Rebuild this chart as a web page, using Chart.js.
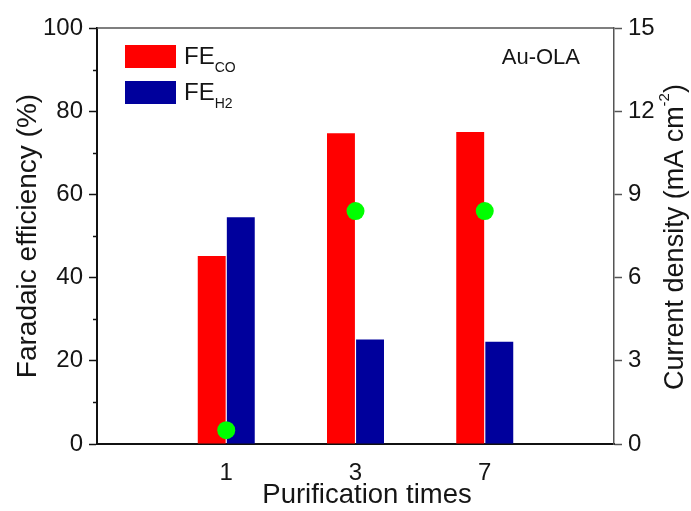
<!DOCTYPE html>
<html>
<head>
<meta charset="utf-8">
<script src="https://cdn.jsdelivr.net/npm/chart.js@4/dist/chart.umd.min.js"></script>
<style>
  html, body { margin: 0; padding: 0; background: #fff; }
  #wrap { width: 691px; height: 511px; }
</style>
</head>
<body>
<div id="wrap"><canvas id="feChart" width="691" height="511"></canvas></div>
<script>
// purification runs and measured values
var times = ['1', '3', '7'];
var feCO = [45.2, 74.7, 75.0];
var feH2 = [54.5, 25.1, 24.6];
var currentDensity = [0.5, 8.4, 8.4];

var FONT = "'Liberation Sans', Arial, sans-serif";
var TEXT = '#151515';
var RED = '#ff0000';
var BLUE = '#00009c';
var GREEN = '#00ff00';

// empty slots on both ends so the three groups sit at 1/4, 2/4, 3/4 of the axis
var labels = [''].concat(times, ['']);
function pad(arr) { return [null].concat(arr, [null]); }

// top frame line, minor ticks on the left axis, legend, sample label, axis titles
var extras = {
  id: 'extras',
  afterDraw: function (chart) {
    var c = chart.ctx, a = chart.chartArea;
    var y = chart.scales.y;
    c.save();

    c.strokeStyle = '#555';
    c.lineWidth = 1.5;
    c.beginPath();
    c.moveTo(a.left, a.top);
    c.lineTo(a.right, a.top);
    c.stroke();

    c.strokeStyle = '#111';
    c.lineWidth = 1.5;
    for (var v = 10; v < 100; v += 20) {
      var py = Math.round(y.getPixelForValue(v)) + 0.5;
      c.beginPath();
      c.moveTo(a.left - 4, py);
      c.lineTo(a.left, py);
      c.stroke();
    }

    // legend
    var items = [
      { color: RED, sub: 'CO', top: 45 },
      { color: BLUE, sub: 'H2', top: 81 }
    ];
    items.forEach(function (it) {
      c.fillStyle = it.color;
      c.fillRect(125, it.top, 51, 23);
      c.fillStyle = TEXT;
      c.textBaseline = 'alphabetic';
      c.textAlign = 'left';
      c.font = '24px ' + FONT;
      c.fillText('FE', 184, it.top + 19);
      var w = c.measureText('FE').width;
      c.font = '14px ' + FONT;
      c.fillText(it.sub, 184 + w, it.top + 27);
    });

    c.fillStyle = TEXT;
    c.font = '22px ' + FONT;
    c.textAlign = 'right';
    c.fillText('Au-OLA', 580, 64);

    // x axis title
    c.font = '27.5px ' + FONT;
    c.textAlign = 'center';
    c.textBaseline = 'middle';
    c.fillText('Purification times', 367, 495);

    // right axis title with superscript
    c.translate(676, 237);
    c.rotate(-Math.PI / 2);
    c.textBaseline = 'middle';
    c.textAlign = 'left';
    var big = '27px ' + FONT, small = '15px ' + FONT;
    var t1 = 'Current density (mA cm', t2 = '-2', t3 = ')';
    c.font = big;
    var w1 = c.measureText(t1).width, w3 = c.measureText(t3).width;
    c.font = small;
    var w2 = c.measureText(t2).width;
    var x0 = -(w1 + w2 + w3) / 2;
    c.font = big;
    c.fillText(t1, x0, 0);
    c.font = small;
    c.fillText(t2, x0 + w1, -11);
    c.font = big;
    c.fillText(t3, x0 + w1 + w2, 0);

    c.restore();
  }
};

new Chart(document.getElementById('feChart'), {
  type: 'bar',
  data: {
    labels: labels,
    datasets: [
      {
        type: 'line',
        label: 'Current density',
        data: pad(currentDensity),
        yAxisID: 'y1',
        showLine: false,
        pointRadius: 9,
        pointHoverRadius: 9,
        pointBackgroundColor: GREEN,
        pointBorderWidth: 0,
        borderColor: GREEN,
        order: 0
      },
      {
        label: 'FE CO',
        data: pad(feCO),
        backgroundColor: RED,
        borderWidth: 0,
        order: 1
      },
      {
        label: 'FE H2',
        data: pad(feH2),
        backgroundColor: BLUE,
        borderWidth: 0,
        order: 1
      }
    ]
  },
  options: {
    responsive: false,
    devicePixelRatio: 1,
    animation: false,
    categoryPercentage: 0.45,
    barPercentage: 0.96,
    layout: { padding: { top: 28, left: 0, right: 0, bottom: 0 } },
    plugins: {
      legend: { display: false },
      tooltip: { enabled: false }
    },
    scales: {
      x: {
        offset: false,
        grid: { drawOnChartArea: false, drawTicks: false },
        border: { color: '#111', width: 2 },
        ticks: {
          color: TEXT,
          font: { family: FONT, size: 24 },
          padding: 15,
          maxRotation: 0,
          autoSkip: false
        },
        afterFit: function (s) { s.height = 67; }
      },
      y: {
        position: 'left',
        min: 0,
        max: 100,
        grid: { drawOnChartArea: false, tickLength: 8, tickColor: '#111', tickWidth: 1.5 },
        border: { color: '#111', width: 2 },
        ticks: {
          stepSize: 20,
          color: TEXT,
          font: { family: FONT, size: 24 },
          padding: 6
        },
        title: {
          display: true,
          text: 'Faradaic efficiency (%)',
          color: TEXT,
          font: { family: FONT, size: 28 },
          padding: { top: 11, bottom: 0 }
        },
        afterFit: function (s) { s.width = 97; }
      },
      y1: {
        position: 'right',
        min: 0,
        max: 15,
        grid: { drawOnChartArea: false, tickLength: 8, tickColor: '#555', tickWidth: 1.5 },
        border: { color: '#555', width: 1.5 },
        ticks: {
          stepSize: 3,
          color: TEXT,
          font: { family: FONT, size: 24 },
          padding: 6
        },
        afterFit: function (s) { s.width = 77; }
      }
    }
  },
  plugins: [extras]
});
</script>
</body>
</html>
